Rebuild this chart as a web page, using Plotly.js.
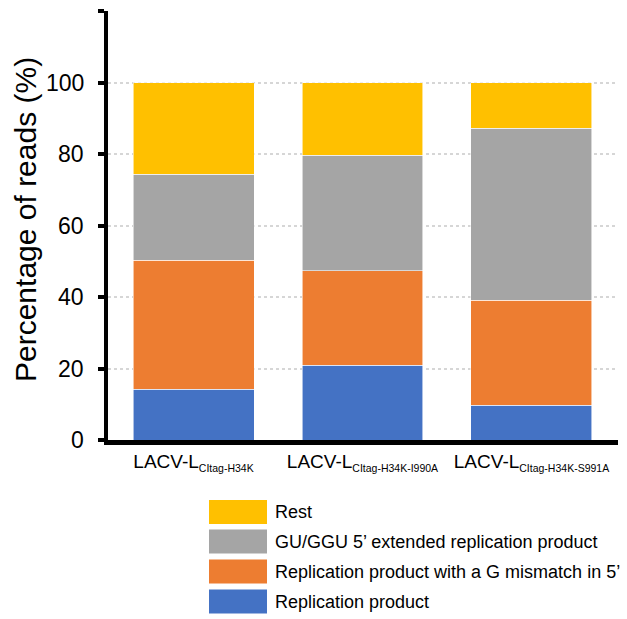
<!DOCTYPE html>
<html>
<head>
<meta charset="utf-8">
<script src="https://cdn.plot.ly/plotly-3.0.1.min.js"></script>
<style>html,body{margin:0;padding:0;background:#fff;}#chart{width:627px;height:619px;}</style>
</head>
<body>
<div id="chart"></div>
<script>
// ---- data ----
const catMain = ["LACV-L", "LACV-L", "LACV-L"];
const catSub = ["CItag-H34K", "CItag-H34K-I990A", "CItag-H34K-S991A"];
const replication = [14.2, 20.9, 9.7];
const gMismatch = [36.1, 26.4, 29.4];
const extended = [24.1, 32.4, 48.1];
const rest = [25.6, 20.3, 12.8];
const seriesNames = ["Replication product", "Replication product with a G mismatch in 5’", "GU/GGU 5’ extended replication product", "Rest"];
const seriesColors = ["#4472C4", "#ED7D31", "#A5A5A5", "#FFC000"];
const yTickVals = [0, 20, 40, 60, 80, 100, 120];
const yTickText = ["0", "20", "40", "60", "80", "100", ""];
const yTitle = "Percentage of reads (%)";

// ---- layout geometry ----
const W = 627, H = 619;
const M = {l: 108, r: 9, t: 11, b: 179};
const PW = W - M.l - M.r, PH = H - M.t - M.b;
const px2x = p => (p - M.l) / PW;
const py2y = p => (H - M.b - p) / PH;

const FONT = "Liberation Sans, Arial, sans-serif";
const values = [replication, gMismatch, extended, rest];
const xIdx = catMain.map((_, i) => i);
const catLabels = catMain.map((m, i) => m + "<sub><span style=\"font-size:10.5px\">" + catSub[i] + "</span></sub>");

const traces = values.map((v, k) => ({
  type: "bar",
  x: xIdx,
  y: v,
  name: seriesNames[k],
  marker: {color: seriesColors[k], line: {color: "rgba(255,255,255,0.7)", width: 0.8}},
  hoverinfo: "y+name"
}));

const shapes = [];
const annotations = [];

// y tick labels placed on the y scale, set back from the ticks as in the reference
yTickVals.forEach((v, i) => {
  if (yTickText[i] === "") return;
  annotations.push({xref: "paper", yref: "y", x: px2x(86), y: v,
    xanchor: "right", yanchor: "middle", showarrow: false,
    text: yTickText[i], font: {family: FONT, size: 23, color: "#000"}});
});

// custom legend (top = last series)
const rowCenters = [512, 541.5, 571.5, 601.5];
for (let r = 0; r < 4; r++) {
  const k = 3 - r;
  const cy = rowCenters[r];
  shapes.push({type: "rect", xref: "paper", yref: "paper",
    x0: px2x(209), x1: px2x(267), y0: py2y(cy + 12), y1: py2y(cy - 12),
    fillcolor: seriesColors[k], line: {width: 0}});
  annotations.push({xref: "paper", yref: "paper", x: px2x(273), y: py2y(cy),
    xanchor: "left", yanchor: "middle", showarrow: false,
    text: seriesNames[k], font: {family: FONT, size: 18, color: "#000"}});
}

// y-axis title
annotations.push({xref: "paper", yref: "paper", x: px2x(25), y: py2y(220),
  xanchor: "center", yanchor: "middle", textangle: -90, showarrow: false,
  text: yTitle, font: {family: FONT, size: 30, color: "#000"}});

const layout = {
  width: W, height: H,
  margin: M,
  paper_bgcolor: "#fff", plot_bgcolor: "#fff",
  barmode: "stack",
  bargap: 0.284,
  showlegend: false,
  font: {family: FONT, color: "#000"},
  xaxis: {
    range: [-0.506, 2.512],
    tickvals: xIdx, ticktext: catLabels,
    tickangle: 0,
    showline: true, linecolor: "#000", linewidth: 5,
    ticks: "", showgrid: false, zeroline: false,
    tickfont: {family: FONT, size: 19, color: "#000"},
    fixedrange: true
  },
  yaxis: {
    range: [0, 120],
    tickvals: yTickVals,
    showticklabels: false,
    showline: true, linecolor: "#000", linewidth: 4.5,
    ticks: "outside", ticklen: 6, tickwidth: 4, tickcolor: "#000",
    showgrid: true, gridcolor: "#D6D6D6", gridwidth: 2, griddash: "dot",
    zeroline: false,
    fixedrange: true
  },
  shapes: shapes,
  annotations: annotations
};

Plotly.newPlot("chart", traces, layout, {displayModeBar: false, staticPlot: true});
</script>
</body>
</html>
